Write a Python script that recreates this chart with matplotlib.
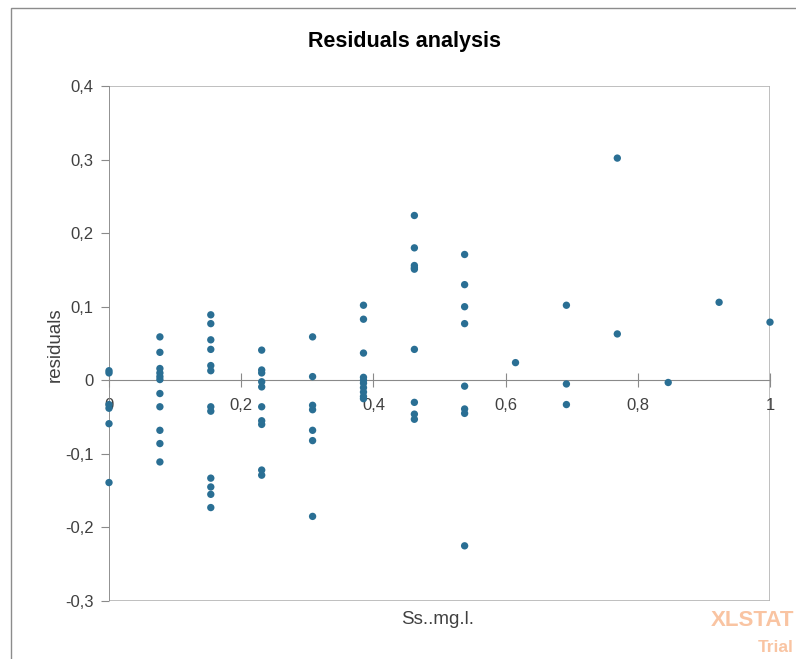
import matplotlib.pyplot as plt
from matplotlib.patches import Rectangle
from matplotlib.ticker import FuncFormatter

# Ss..mg.l. levels (x positions of each column of residuals)
ss_levels = [0.0, 0.077, 0.154, 0.231, 0.308, 0.385, 0.462,
             0.538, 0.615, 0.692, 0.769, 0.846, 0.923, 1.0]

residuals = [
    [0.013, 0.010, -0.033, -0.038, -0.059, -0.139],
    [0.059, 0.038, 0.016, 0.010, 0.005, 0.001, -0.018, -0.036, -0.068, -0.086, -0.111],
    [0.089, 0.077, 0.055, 0.042, 0.020, 0.013, -0.036, -0.042, -0.133, -0.145, -0.155, -0.173],
    [0.041, 0.014, 0.010, -0.002, -0.009, -0.036, -0.055, -0.060, -0.122, -0.129],
    [0.059, 0.005, -0.034, -0.040, -0.068, -0.082, -0.185],
    [0.102, 0.083, 0.037, 0.004, 0.0, -0.004, -0.010, -0.016, -0.022, -0.025],
    [0.224, 0.180, 0.156, 0.153, 0.151, 0.042, -0.030, -0.046, -0.053],
    [0.171, 0.130, 0.100, 0.077, -0.008, -0.039, -0.045, -0.225],
    [0.024],
    [0.102, -0.005, -0.033],
    [0.302, 0.063],
    [-0.003],
    [0.106],
    [0.079],
]

y_ticks = [-0.3, -0.2, -0.1, 0, 0.1, 0.2, 0.3, 0.4]
x_ticks = [0, 0.2, 0.4, 0.6, 0.8, 1]

xs, ys = [], []
for lvl, col in zip(ss_levels, residuals):
    for r in col:
        xs.append(lvl)
        ys.append(r)


def comma(v, pos):
    s = "%g" % round(v, 2)
    return s.replace(".", ",")


fig = plt.figure(figsize=(7.96, 6.59), dpi=100)
plt.rcParams['font.family'] = ['Liberation Sans', 'DejaVu Sans']

# outer chart frame
fig.patches.append(Rectangle((11 / 796, -0.05), 1.1, 1 - 8 / 659 + 0.05,
                             transform=fig.transFigure, fill=False,
                             edgecolor='#8c8c8c', linewidth=1.0))

ax = fig.add_axes([109 / 796, 58 / 659, 661 / 796, 515 / 659])
ax.scatter(xs, ys, s=28, color='#2a6f94', edgecolors='none', zorder=3, clip_on=False)

ax.set_xlim(0, 1)
ax.set_ylim(-0.3, 0.4)

gray = '#8a8a8a'
for side in ['top', 'right', 'left']:
    ax.spines[side].set_visible(False)
ax.spines['bottom'].set_position(('data', 0))
ax.spines['bottom'].set_color(gray)
ax.add_patch(Rectangle((0, 0), 1, 1, transform=ax.transAxes, fill=False,
                       edgecolor='#b4b4b4', linewidth=1.2, zorder=1))
ax.axvline(0, color=gray, linewidth=1.2, zorder=2)

ax.set_yticks(y_ticks)
ax.set_xticks(x_ticks)
ax.xaxis.set_major_formatter(FuncFormatter(comma))
ax.yaxis.set_major_formatter(FuncFormatter(comma))
ax.tick_params(axis='y', direction='out', length=6, color=gray, labelsize=12, pad=5,
               labelcolor='#404040')
ax.tick_params(axis='x', direction='inout', length=10, color=gray, labelsize=12, pad=8,
               labelcolor='#404040')

fig.text(405 / 796, 1 - 42 / 659, 'Residuals analysis', ha='center', va='center',
         fontsize=15.5, fontweight='bold')
fig.text(55 / 796, 1 - 345 / 659, 'residuals', ha='center', va='center',
         rotation=90, fontsize=13.5, color='#404040')
fig.text(438 / 796, 1 - 620 / 659, 'Ss..mg.l.', ha='center', va='center',
         fontsize=13.5, color='#404040')

# watermark
fig.text(794 / 796, 1 - 621 / 659, 'XLSTAT', ha='right', va='center',
         fontsize=16, fontweight='bold', color='#f9c4a2')
fig.text(794 / 796, 1 - 647 / 659, 'Trial', ha='right', va='center',
         fontsize=12.5, fontweight='bold', color='#f9c4a2')

fig.savefig('out.png', dpi=100)
